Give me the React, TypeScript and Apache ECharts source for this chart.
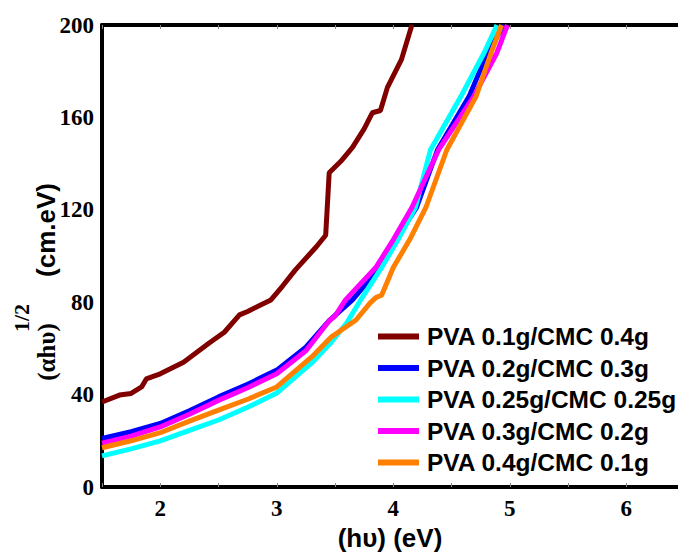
import React, { useEffect, useRef } from "react";
import * as echarts from "echarts";

const seriesNames = [
  "PVA 0.1g/CMC 0.4g",
  "PVA 0.2g/CMC 0.3g",
  "PVA 0.25g/CMC 0.25g",
  "PVA 0.3g/CMC 0.2g",
  "PVA 0.4g/CMC 0.1g",
];
const seriesColors = ["#800000", "#0000FF", "#00FFFF", "#FF00FF", "#FF8000"];

const brownE = [1.5, 1.65, 1.75, 1.84, 1.88, 2.0, 2.2, 2.42, 2.55, 2.68, 2.75, 2.87, 2.95, 3.05, 3.16, 3.34, 3.42, 3.45, 3.55, 3.65, 3.75, 3.82, 3.89, 3.95, 4.07, 4.16];
const brownV = [36.8, 39.8, 40.5, 43.3, 46.8, 49, 54, 62.3, 67, 74.5, 76, 79, 81, 87, 94, 104, 109, 136, 141, 147, 155, 162, 163, 173, 185, 200];

const blueE = [1.5, 1.75, 2.0, 2.25, 2.5, 2.75, 3.0, 3.25, 3.45, 3.65, 3.85, 4.02, 4.2, 4.38, 4.65, 4.81, 4.95];
const blueV = [21, 24, 27.5, 33, 39, 44.5, 50.6, 60.5, 72, 81, 93, 107, 121, 146, 169, 188, 200];

const cyanE = [1.5, 1.75, 2.0, 2.25, 2.5, 2.75, 3.0, 3.3, 3.47, 3.6, 3.73, 3.9, 4.04, 4.19, 4.32, 4.58, 4.78, 4.89];
const cyanV = [13.5, 16.5, 20, 24.5, 29, 34.5, 40.7, 53.7, 62.8, 71, 81.8, 95, 107, 121, 146, 169, 188, 200];

const magentaE = [1.5, 1.75, 2.0, 2.25, 2.5, 2.75, 3.0, 3.25, 3.45, 3.5, 3.59, 3.85, 4.0, 4.16, 4.39, 4.69, 4.89, 4.98];
const magentaV = [19, 22, 26, 31.5, 37.5, 43, 49, 59, 72, 74, 81, 95, 107, 121, 146, 169, 188, 200];

const orangeE = [1.5, 1.75, 2.0, 2.25, 2.5, 2.75, 3.0, 3.3, 3.47, 3.68, 3.8, 3.85, 3.9, 3.95, 4.0, 4.14, 4.28, 4.46, 4.71, 4.84, 4.93];
const orangeV = [17, 20, 23.5, 28.5, 33.3, 38, 43.3, 56.3, 65, 72.3, 79.6, 82, 83, 89, 95, 107, 121, 146, 169, 188, 200];

const seriesE = [brownE, blueE, cyanE, magentaE, orangeE];
const seriesV = [brownV, blueV, cyanV, magentaV, orangeV];

const yTicks = [0, 40, 80, 120, 160, 200];
const xTickLabels = [2, 3, 4, 5, 6];
const xMin = 1.5;
const xMax = 6.444;

export default function App() {
  const ref = useRef<HTMLDivElement>(null);
  useEffect(() => {
    if (!ref.current) return;
    const chart = echarts.init(ref.current, null, { renderer: "svg" });
    const tickFont = {
      fontFamily: "Liberation Serif",
      fontWeight: "bold" as const,
      fontSize: 23,
      color: "#000",
    };
    const xAxisCommon = {
      type: "value" as const,
      min: xMin,
      max: xMax,
      interval: 0.5,
      splitLine: { show: false },
      axisLine: { show: true, onZero: false, lineStyle: { color: "#000", width: 4 } },
      axisTick: { show: true, inside: true, length: 4, lineStyle: { color: "#888", width: 1 } },
    };
    chart.setOption({
      animation: false,
      backgroundColor: "#fff",
      grid: { left: 102, top: 25, right: 0, bottom: 66, containLabel: false },
      xAxis: [
        {
          ...xAxisCommon,
          position: "bottom",
          axisLabel: {
            ...tickFont,
            margin: 10,
            showMaxLabel: false,
            formatter: (v: number) => (xTickLabels.includes(v) ? String(v) : ""),
          },
        },
        {
          ...xAxisCommon,
          position: "top",
          axisLabel: { show: false },
        },
      ],
      yAxis: {
        type: "value",
        min: yTicks[0],
        max: yTicks[yTicks.length - 1],
        interval: 40,
        splitLine: { show: false },
        axisLine: { show: true, lineStyle: { color: "#000", width: 4 } },
        axisTick: { show: false },
        axisLabel: { ...tickFont, margin: 8 },
      },
      legend: {
        orient: "vertical",
        left: 378,
        top: 324,
        padding: 0,
        icon: "rect",
        itemWidth: 41,
        itemHeight: 6,
        itemGap: 6.5,
        textStyle: {
          fontFamily: "Liberation Sans",
          fontWeight: "bold",
          fontSize: 24.5,
          color: "#000",
          padding: [0, 0, 0, 3],
        },
        data: seriesNames,
      },
      graphic: [
        {
          type: "text",
          x: 46,
          y: 230,
          rotation: Math.PI / 2,
          style: {
            text: "(cm.eV)",
            font: "bold 26px 'Liberation Sans'",
            fill: "#000",
            textAlign: "center",
            textVerticalAlign: "middle",
          },
        },
        {
          type: "text",
          x: 21,
          y: 318,
          rotation: Math.PI / 2,
          style: {
            text: "1/2",
            font: "bold 22px 'Liberation Serif'",
            fill: "#000",
            textAlign: "center",
            textVerticalAlign: "middle",
          },
        },
        {
          type: "text",
          x: 46,
          y: 352,
          rotation: Math.PI / 2,
          style: {
            text: "(\u03b1h\u03c5)",
            font: "bold 25px 'Liberation Serif'",
            fill: "#000",
            textAlign: "center",
            textVerticalAlign: "middle",
          },
        },
        {
          type: "text",
          x: 390,
          y: 538,
          style: {
            text: "(h\u03c5) (eV)",
            font: "bold 26px 'Liberation Sans'",
            fill: "#000",
            textAlign: "center",
            textVerticalAlign: "middle",
          },
        },
      ],
      series: seriesNames.map((name, i) => ({
        name,
        type: "line",
        xAxisIndex: 0,
        showSymbol: false,
        symbol: "none",
        smooth: false,
        lineStyle: { color: seriesColors[i], width: 5 },
        itemStyle: { color: seriesColors[i] },
        data: seriesE[i].map((e, j) => [e, seriesV[i][j]]),
      })),
    });
    return () => chart.dispose();
  }, []);
  return (
    <div
      ref={ref}
      style={{ position: "fixed", left: 0, top: 0, width: 678, height: 553 }}
    />
  );
}
